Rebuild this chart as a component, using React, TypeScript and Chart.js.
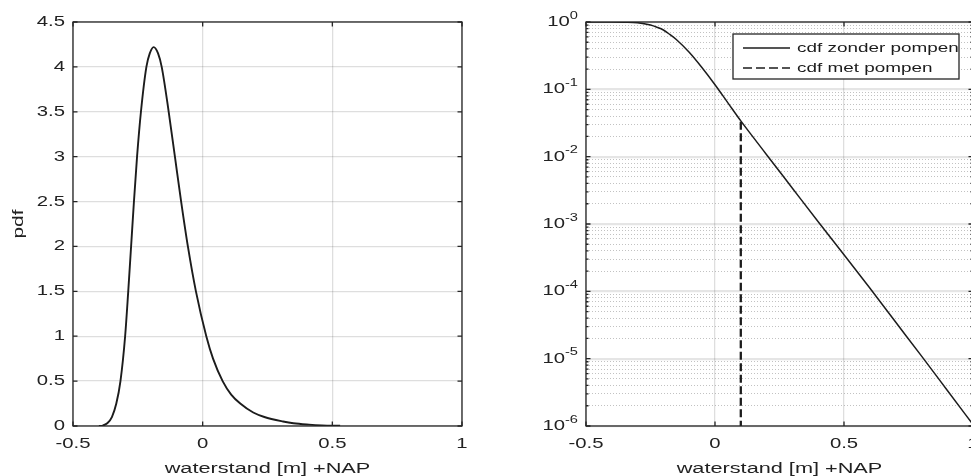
import React, { useEffect, useRef } from 'react';
import { Chart, registerables } from 'chart.js';

Chart.register(...registerables);

// ---------- data ----------
const pdfX = [-0.4, -0.385, -0.368, -0.35, -0.333, -0.317, -0.299, -0.287, -0.276, -0.265, -0.253, -0.238, -0.217, -0.204, -0.189, -0.172, -0.158, -0.131, -0.107, -0.083, -0.057, -0.026, 0.014, 0.04, 0.077, 0.11, 0.145, 0.195, 0.238, 0.31, 0.35, 0.41, 0.46, 0.53];
const pdfY = [0, 0.005, 0.03, 0.1, 0.25, 0.5, 1.0, 1.5, 2.0, 2.5, 3.0, 3.5, 4.0, 4.15, 4.22, 4.15, 4.0, 3.5, 3.0, 2.5, 2.0, 1.5, 1.0, 0.75, 0.5, 0.35, 0.25, 0.15, 0.1, 0.05, 0.03, 0.015, 0.007, 0.002];

const cdfX = [-0.5, -0.4, -0.35, -0.3, -0.25, -0.225, -0.2, -0.175, -0.15, -0.1, -0.05, 0, 0.05, 0.1, 0.15, 0.2, 0.3, 0.4, 0.5, 0.6, 0.7, 0.8, 0.9, 1.0];
const cdfY = [1, 0.9995, 0.995, 0.977, 0.9, 0.836, 0.76, 0.653, 0.55, 0.355, 0.209, 0.117, 0.063, 0.034, 0.019, 0.0107, 3.4e-3, 1.08e-3, 3.5e-4, 1.12e-4, 3.5e-5, 1.1e-5, 3.4e-6, 1.05e-6];

const pumpX = [0.1, 0.1];
const pumpY = [0.033, 1e-6];

const xTicks = [-0.5, 0, 0.5, 1];
const pdfTicks = [0, 0.5, 1, 1.5, 2, 2.5, 3, 3.5, 4, 4.5];
const decades = [-6, -5, -4, -3, -2, -1, 0];
const minorSteps = [1, 2, 3, 4, 5, 6, 7, 8, 9];

const seriesNames = ['cdf zonder pompen', 'cdf met pompen'];
const xTitle = 'waterstand [m] +NAP';
const pdfTitle = 'pdf';

// ---------- styling ----------
const FONT = '"Liberation Sans", Arial, Helvetica, sans-serif';
const INK = '#1c1c1c';
const AXIS = '#262626';
const GRID = 'rgba(0,0,0,0.13)';
const GRID_MAJOR_LOG = 'rgba(0,0,0,0.1)';
const GRID_MINOR_LOG = 'rgba(0,0,0,0.24)';
const STRETCH = 1.4;

Chart.defaults.font.family = FONT;
Chart.defaults.color = '#222';

// wide text rendering (+ simple superscript with "^")
function stretchText(ctx: any) {
  if (ctx.__stretched) return;
  ctx.__stretched = true;
  const origFill = ctx.fillText.bind(ctx);
  const origMeasure = ctx.measureText.bind(ctx);
  const sizeOf = (f: string) => {
    const m = /([\d.]+)px/.exec(f);
    return m ? parseFloat(m[1]) : 12;
  };
  const smallFont = (f: string) => f.replace(/([\d.]+)px/, (_m: string, s: string) => (parseFloat(s) * 0.72).toFixed(2) + 'px');
  const widths = (t: string) => {
    const i = t.indexOf('^');
    const b = i < 0 ? t : t.slice(0, i);
    const e = i < 0 ? '' : t.slice(i + 1);
    const wb = origMeasure(b).width * STRETCH;
    let we = 0;
    if (e) {
      const f = ctx.font;
      ctx.font = smallFont(f);
      we = origMeasure(e).width * STRETCH;
      ctx.font = f;
    }
    return { b, e, wb, total: wb + we };
  };
  ctx.measureText = (t: any) => {
    const s = String(t);
    const m = origMeasure(s.replace('^', ''));
    return {
      width: widths(s).total,
      actualBoundingBoxAscent: m.actualBoundingBoxAscent,
      actualBoundingBoxDescent: m.actualBoundingBoxDescent,
      actualBoundingBoxLeft: m.actualBoundingBoxLeft,
      actualBoundingBoxRight: m.actualBoundingBoxRight,
      fontBoundingBoxAscent: m.fontBoundingBoxAscent,
      fontBoundingBoxDescent: m.fontBoundingBoxDescent,
    };
  };
  ctx.fillText = (t: any, x: number, y: number) => {
    const s = String(t);
    const { b, e, wb, total } = widths(s);
    const align = ctx.textAlign;
    let start = x;
    if (align === 'center') start = x - total / 2;
    else if (align === 'right' || align === 'end') start = x - total;
    const base = sizeOf(ctx.font);
    ctx.save();
    ctx.textAlign = 'left';
    ctx.translate(start, y);
    ctx.scale(STRETCH, 1);
    origFill(b, 0, 0);
    if (e) {
      ctx.font = smallFont(ctx.font);
      origFill(e, wb / STRETCH, -base * 0.42);
    }
    ctx.restore();
  };
}

const isDecade = (v: number) => {
  const e = Math.log10(v);
  return Math.abs(e - Math.round(e)) < 1e-6;
};

function makeFrame(major: number, minor: number) {
  return {
    id: 'frame',
    afterDatasetsDraw(chart: any) {
      const { ctx, chartArea: a, scales } = chart;
      ctx.save();
      ctx.strokeStyle = AXIS;
      ctx.lineWidth = 1.3;
      ctx.setLineDash([]);
      ctx.beginPath();
      const xs = scales.x;
      xs.ticks.forEach((t: any) => {
        const p = xs.getPixelForValue(t.value);
        ctx.moveTo(p, a.bottom);
        ctx.lineTo(p, a.bottom - major);
        ctx.moveTo(p, a.top);
        ctx.lineTo(p, a.top + major);
      });
      const ys = scales.y;
      ys.ticks.forEach((t: any) => {
        const len = ys.type === 'logarithmic' && !isDecade(t.value) ? minor : major;
        if (!len) return;
        const p = ys.getPixelForValue(t.value);
        ctx.moveTo(a.left, p);
        ctx.lineTo(a.left + len, p);
        ctx.moveTo(a.right, p);
        ctx.lineTo(a.right - len, p);
      });
      ctx.stroke();
      ctx.strokeRect(a.left, a.top, a.right - a.left, a.bottom - a.top);
      ctx.restore();
    },
  };
}

const boxLegend = {
  id: 'boxLegend',
  afterDraw(chart: any) {
    const { ctx, chartArea: a } = chart;
    const w = 226;
    const h = 45;
    const left = a.right - 14 - w;
    const top = a.top + 12;
    ctx.save();
    ctx.fillStyle = '#fff';
    ctx.fillRect(left, top, w, h);
    ctx.strokeStyle = AXIS;
    ctx.lineWidth = 1.3;
    ctx.setLineDash([]);
    ctx.strokeRect(left, top, w, h);
    ctx.font = `13.5px ${FONT}`;
    ctx.textAlign = 'left';
    ctx.textBaseline = 'middle';
    chart.data.datasets.forEach((ds: any, i: number) => {
      const y = top + 14 + i * 20;
      ctx.beginPath();
      ctx.strokeStyle = ds.borderColor;
      ctx.lineWidth = 1.6;
      ctx.setLineDash(ds.borderDash ? [9, 4] : []);
      ctx.moveTo(left + 10, y);
      ctx.lineTo(left + 57, y);
      ctx.stroke();
      ctx.setLineDash([]);
      ctx.fillStyle = INK;
      ctx.fillText(ds.label, left + 64, y);
    });
    ctx.restore();
  },
};

const xScale = () => ({
  type: 'linear',
  min: -0.5,
  max: 1,
  afterBuildTicks: (s: any) => {
    s.ticks = xTicks.map((v) => ({ value: v }));
  },
  afterFit: (s: any) => {
    s.height = 50;
    s.paddingLeft = 0;
    s.paddingRight = 0;
  },
  ticks: {
    callback: (v: any) => String(v),
    padding: 9,
    font: { size: 14.5 },
    color: '#222',
    maxRotation: 0,
    autoSkip: false,
  },
  grid: { color: GRID, lineWidth: 1.3, drawTicks: false },
  border: { display: false },
  title: {
    display: true,
    text: xTitle,
    font: { size: 15.5, lineHeight: 1 },
    padding: { top: 0, bottom: 0 },
    color: '#222',
  },
});

function pdfConfig(): any {
  return {
    type: 'line',
    data: {
      datasets: [
        {
          label: pdfTitle,
          data: pdfX.map((x, i) => ({ x, y: pdfY[i] })),
          borderColor: INK,
          borderWidth: 1.9,
          pointRadius: 0,
          cubicInterpolationMode: 'monotone',
          fill: false,
        },
      ],
    },
    options: {
      animation: false,
      responsive: true,
      maintainAspectRatio: false,
      layout: { padding: { top: 22, right: 18, bottom: 0, left: 0 } },
      plugins: { legend: { display: false }, tooltip: { enabled: false } },
      scales: {
        x: xScale(),
        y: {
          type: 'linear',
          min: 0,
          max: 4.5,
          afterBuildTicks: (s: any) => {
            s.ticks = pdfTicks.map((v) => ({ value: v }));
          },
          afterFit: (s: any) => {
            s.width = 73;
            s.paddingTop = 0;
            s.paddingBottom = 0;
          },
          ticks: {
            callback: (v: any) => String(v),
            padding: 8,
            font: { size: 14.5 },
            color: '#222',
            autoSkip: false,
          },
          grid: { color: GRID, lineWidth: 1.3, drawTicks: false },
          border: { display: false },
          title: {
            display: true,
            text: pdfTitle,
            font: { size: 15, lineHeight: 1 },
            padding: { top: 11, bottom: 0 },
            color: '#222',
          },
        },
      },
    },
    plugins: [makeFrame(4.5, 0)],
  };
}

function cdfConfig(): any {
  return {
    type: 'line',
    data: {
      datasets: [
        {
          label: seriesNames[0],
          data: cdfX.map((x, i) => ({ x, y: cdfY[i] })),
          borderColor: INK,
          borderWidth: 1.5,
          pointRadius: 0,
          cubicInterpolationMode: 'monotone',
          fill: false,
        },
        {
          label: seriesNames[1],
          data: pumpX.map((x, i) => ({ x, y: pumpY[i] })),
          borderColor: INK,
          borderWidth: 2.3,
          borderDash: [8, 3.5],
          pointRadius: 0,
          fill: false,
        },
      ],
    },
    options: {
      animation: false,
      responsive: true,
      maintainAspectRatio: false,
      layout: { padding: { top: 22, right: 7, bottom: 0, left: 0 } },
      plugins: { legend: { display: false }, tooltip: { enabled: false } },
      scales: {
        x: xScale(),
        y: {
          type: 'logarithmic',
          min: 1e-6,
          max: 1,
          afterBuildTicks: (s: any) => {
            const t: any[] = [];
            decades.forEach((e) => {
              minorSteps.forEach((k) => {
                const v = k * Math.pow(10, e);
                if (v <= 1 + 1e-12) t.push({ value: v, major: k === 1 });
              });
            });
            s.ticks = t;
          },
          afterFit: (s: any) => {
            s.width = 106;
            s.paddingTop = 0;
            s.paddingBottom = 0;
          },
          ticks: {
            callback: (v: any) => (isDecade(v) ? '10^' + Math.round(Math.log10(v)) : ''),
            padding: 8,
            font: { size: 14.5 },
            color: '#222',
            autoSkip: false,
          },
          grid: {
            color: (c: any) => (c.tick && !isDecade(c.tick.value) ? GRID_MINOR_LOG : GRID_MAJOR_LOG),
            lineWidth: (c: any) => (c.tick && !isDecade(c.tick.value) ? 1 : 2.2),
            drawTicks: false,
          },
          border: {
            display: false,
            dash: (c: any) => (c.tick && !isDecade(c.tick.value) ? [1, 2] : []),
          },
        },
      },
    },
    plugins: [makeFrame(4.5, 2.5), boxLegend],
  };
}

function ChartBox({ make, style }: { make: () => any; style: React.CSSProperties }) {
  const ref = useRef<HTMLCanvasElement>(null);
  useEffect(() => {
    const canvas = ref.current!;
    const ctx = canvas.getContext('2d')!;
    stretchText(ctx);
    const chart = new Chart(canvas, make());
    return () => chart.destroy();
  }, []);
  return (
    <div style={style}>
      <canvas ref={ref} />
    </div>
  );
}

export default function App() {
  return (
    <div
      style={{
        position: 'fixed',
        left: 0,
        top: 0,
        width: 971,
        height: 476,
        overflow: 'hidden',
        background: '#fff',
      }}
    >
      <ChartBox make={pdfConfig} style={{ position: 'absolute', left: 0, top: 0, width: 480, height: 476 }} />
      <ChartBox make={cdfConfig} style={{ position: 'absolute', left: 480, top: 0, width: 500, height: 476 }} />
    </div>
  );
}
